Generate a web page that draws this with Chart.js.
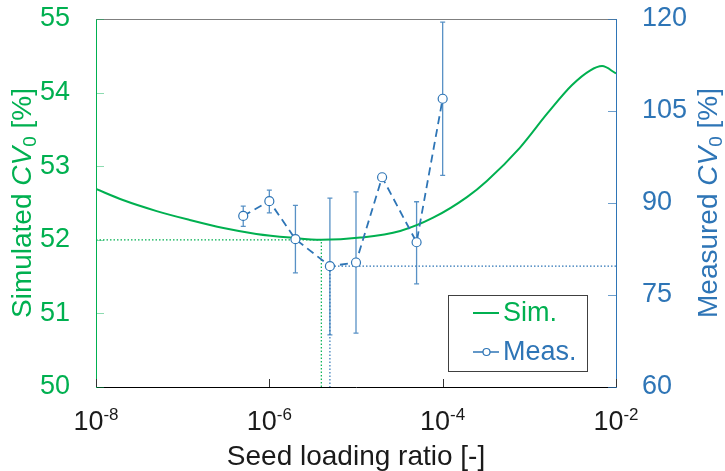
<!DOCTYPE html>
<html>
<head>
<meta charset="utf-8">
<script src="https://cdn.jsdelivr.net/npm/chart.js@4.4.1/dist/chart.umd.min.js"></script>
<style>
  html, body { margin: 0; padding: 0; background: #fff; }
  #wrap { width: 725px; height: 471px; }
</style>
</head>
<body>
<div id="wrap"><canvas id="chart" width="725" height="471"></canvas></div>
<script>
// Simulated CV0 (left axis): log10(seed loading ratio) and CV0 [%]
const simExp = [-8.00, -7.69, -7.30, -6.92, -6.53, -6.15, -5.76, -5.40, -4.95, -4.49, -4.11, -3.72, -3.49, -3.11, -2.79, -2.51, -2.30, -2.16, -2.00];
const simCv  = [52.69, 52.54, 52.39, 52.27, 52.16, 52.08, 52.03, 52.00, 52.03, 52.12, 52.30, 52.58, 52.80, 53.25, 53.72, 54.10, 54.30, 54.36, 54.26];

// Measured CV0 (right axis) with error bar limits
const measX    = [5e-7, 1e-6, 2e-6, 5e-6, 1e-5, 2e-5, 5e-5, 1e-4];
const measCv   = [87.9, 90.3, 84.1, 79.7, 80.3, 94.2, 83.6, 107.0];
const measLow  = [86.2, 88.4, 78.6, 68.5, 68.8, null, 76.8, 94.5];
const measHigh = [89.5, 92.1, 89.6, 90.8, 91.8, null, 90.2, 119.5];

// axis ranges and ticks
const xMin = 1e-8, xMax = 1e-2;
const xTickValues = [1e-8, 1e-6, 1e-4, 1e-2];
const simTicks = [50, 51, 52, 53, 54, 55];
const measTicks = [60, 75, 90, 105, 120];

const GREEN = '#00b050';
const BLUE = '#2e75b6';
const FONT = "'Liberation Sans', Arial, Helvetica, sans-serif";

// minima used for the dotted guide lines
const simMinIdx = simCv.indexOf(Math.min(...simCv));
const simMinX = Math.pow(10, simExp[simMinIdx]);
const simMinCv = simCv[simMinIdx];
const measMinIdx = measCv.indexOf(Math.min(...measCv));
const measMinX = measX[measMinIdx];
const measMinCv = measCv[measMinIdx];

function drawRich(ctx, parts, x, y, align) {
  let w = 0;
  parts.forEach(p => { ctx.font = p.font; w += ctx.measureText(p.text).width; });
  let cx = align === 'center' ? x - w / 2 : x;
  parts.forEach(p => {
    ctx.font = p.font;
    ctx.fillStyle = p.color;
    ctx.fillText(p.text, cx, y + (p.dy || 0));
    cx += ctx.measureText(p.text).width;
  });
}

const errorBars = {
  id: 'errorBars',
  beforeDatasetsDraw(chart) {
    const {ctx, scales} = chart;
    ctx.save();
    ctx.strokeStyle = 'rgba(46,117,182,0.8)';
    ctx.lineWidth = 1.3;
    measX.forEach((v, i) => {
      if (measLow[i] == null) return;
      const px = scales.x.getPixelForValue(v);
      const lo = scales.y1.getPixelForValue(measLow[i]);
      const hi = scales.y1.getPixelForValue(measHigh[i]);
      ctx.beginPath();
      ctx.moveTo(px, lo); ctx.lineTo(px, hi);
      ctx.moveTo(px - 2.5, lo); ctx.lineTo(px + 2.5, lo);
      ctx.moveTo(px - 2.5, hi); ctx.lineTo(px + 2.5, hi);
      ctx.stroke();
    });
    ctx.restore();
  }
};

const frame = {
  id: 'frame',
  afterDraw(chart) {
    const {ctx, chartArea: a, scales} = chart;
    ctx.save();

    // top border
    ctx.strokeStyle = '#7f7f7f';
    ctx.lineWidth = 1;
    ctx.beginPath();
    ctx.moveTo(a.left, a.top + 0.5); ctx.lineTo(a.right, a.top + 0.5);
    ctx.stroke();

    // inward tick marks
    ctx.strokeStyle = 'rgba(0,176,80,0.45)';
    ctx.beginPath();
    simTicks.forEach(t => {
      const py = Math.round(scales.y.getPixelForValue(t)) + 0.5;
      ctx.moveTo(a.left, py); ctx.lineTo(a.left + 8, py);
    });
    ctx.stroke();
    ctx.strokeStyle = 'rgba(46,117,182,0.7)';
    ctx.beginPath();
    measTicks.forEach(t => {
      const py = Math.round(scales.y1.getPixelForValue(t)) + 0.5;
      ctx.moveTo(a.right - 8, py); ctx.lineTo(a.right, py);
    });
    ctx.stroke();
    ctx.strokeStyle = '#333';
    ctx.beginPath();
    xTickValues.forEach(v => {
      const px = Math.round(scales.x.getPixelForValue(v)) + 0.5;
      ctx.moveTo(px, a.bottom); ctx.lineTo(px, a.bottom - 8);
    });
    ctx.stroke();

    // x tick labels as powers of ten
    ctx.textAlign = 'left';
    ctx.textBaseline = 'alphabetic';
    xTickValues.forEach(v => {
      const px = scales.x.getPixelForValue(v);
      const exp = Math.round(Math.log10(v));
      drawRich(ctx, [
        {text: '10', font: `27px ${FONT}`, color: '#1a1a1a'},
        {text: String(exp), font: `17px ${FONT}`, color: '#1a1a1a', dy: -10}
      ], px, scales.x.top + 43, 'center');
    });

    // y axis titles
    const midY = (a.top + a.bottom) / 2;
    const title = (name, color) => [
      {text: name + ' ', font: `28px ${FONT}`, color},
      {text: 'CV', font: `italic 28px ${FONT}`, color},
      {text: '0', font: `19px ${FONT}`, color, dy: 5},
      {text: ' [%]', font: `28px ${FONT}`, color}
    ];
    ctx.save();
    ctx.translate(scales.y.left + 30.5, midY);
    ctx.rotate(-Math.PI / 2);
    drawRich(ctx, title('Simulated', GREEN), 0, 0, 'center');
    ctx.restore();
    ctx.save();
    ctx.translate(scales.y1.right - 8, midY);
    ctx.rotate(-Math.PI / 2);
    drawRich(ctx, title('Measured', BLUE), 0, 0, 'center');
    ctx.restore();

    // legend box in the lower right corner of the plot
    const sim = chart.data.datasets[0], meas = chart.data.datasets[1];
    const bw = 139, bh = 76;
    const bx = a.right - 29 - bw, by = a.bottom - 16 - bh;
    ctx.fillStyle = '#fff';
    ctx.fillRect(bx, by, bw, bh);
    ctx.strokeStyle = '#404040';
    ctx.lineWidth = 1;
    ctx.strokeRect(bx + 0.5, by + 0.5, bw, bh);
    ctx.font = `27px ${FONT}`;
    ctx.textBaseline = 'middle';
    const row1 = by + 18, row2 = by + 57;
    ctx.strokeStyle = sim.borderColor;
    ctx.lineWidth = 2;
    ctx.beginPath(); ctx.moveTo(bx + 25, row1); ctx.lineTo(bx + 51, row1); ctx.stroke();
    ctx.fillStyle = sim.borderColor;
    ctx.fillText(sim.label, bx + 55, row1 + 1);
    ctx.strokeStyle = meas.borderColor;
    ctx.lineWidth = 1.5;
    ctx.beginPath(); ctx.moveTo(bx + 25, row2); ctx.lineTo(bx + 51, row2); ctx.stroke();
    ctx.fillStyle = '#fff';
    ctx.lineWidth = 1.2;
    ctx.beginPath(); ctx.arc(bx + 38.5, row2, 3.5, 0, Math.PI * 2); ctx.fill(); ctx.stroke();
    ctx.fillStyle = meas.borderColor;
    ctx.fillText(meas.label, bx + 55, row2 + 1);

    ctx.restore();
  }
};

Chart.defaults.font.family = FONT;

// vertical axes: fixed width, no extra label overhang padding
const fitY = width => s => { s.width = width; s.paddingTop = 0; s.paddingBottom = 0; };

new Chart(document.getElementById('chart'), {
  type: 'line',
  data: {
    datasets: [
      {
        label: 'Sim.',
        data: simExp.map((e, i) => ({x: Math.pow(10, e), y: simCv[i]})),
        yAxisID: 'y',
        borderColor: GREEN,
        borderWidth: 2,
        pointRadius: 0,
        cubicInterpolationMode: 'monotone',
        order: 1
      },
      {
        label: 'Meas.',
        data: measX.map((v, i) => ({x: v, y: measCv[i]})),
        yAxisID: 'y1',
        borderColor: BLUE,
        borderWidth: 1.8,
        borderDash: [8, 5],
        pointRadius: 4.5,
        pointBackgroundColor: '#fff',
        pointBorderColor: BLUE,
        pointBorderWidth: 1.2,
        order: 0
      },
      {
        label: 'sim-min',
        data: [{x: xMin, y: simMinCv}, {x: simMinX, y: simMinCv}, {x: simMinX, y: simTicks[0]}],
        yAxisID: 'y',
        borderColor: GREEN,
        borderWidth: 1.2,
        borderDash: [1.5, 2],
        pointRadius: 0,
        order: 2
      },
      {
        label: 'meas-min',
        data: [{x: xMax, y: measMinCv}, {x: measMinX, y: measMinCv}, {x: measMinX, y: measTicks[0]}],
        yAxisID: 'y1',
        borderColor: BLUE,
        borderWidth: 1.2,
        borderDash: [1.5, 2],
        pointRadius: 0,
        order: 2
      }
    ]
  },
  options: {
    responsive: false,
    animation: false,
    layout: {padding: {top: 19, left: 0, right: 0, bottom: 0}},
    plugins: {legend: {display: false}, tooltip: {enabled: false}},
    scales: {
      x: {
        type: 'logarithmic',
        position: 'bottom',
        min: xMin,
        max: xMax,
        afterBuildTicks: s => { s.ticks = xTickValues.map(v => ({value: v})); },
        afterFit: s => { s.height = 84; s.paddingLeft = 0; s.paddingRight = 0; },
        ticks: {display: false},
        grid: {display: false, drawTicks: false},
        border: {display: true, color: '#000', width: 1},
        title: {
          display: true,
          text: 'Seed loading ratio [-]',
          color: '#1a1a1a',
          font: {size: 28, lineHeight: 1},
          padding: 0
        }
      },
      y: {
        type: 'linear',
        position: 'left',
        min: simTicks[0],
        max: simTicks[simTicks.length - 1],
        afterBuildTicks: s => { s.ticks = simTicks.map(v => ({value: v})); },
        afterFit: fitY(96),
        ticks: {color: GREEN, font: {size: 27}, padding: 26},
        grid: {display: false, drawTicks: false},
        border: {display: true, color: GREEN, width: 1}
      },
      y1: {
        type: 'linear',
        position: 'right',
        min: measTicks[0],
        max: measTicks[measTicks.length - 1],
        afterBuildTicks: s => { s.ticks = measTicks.map(v => ({value: v})); },
        afterFit: fitY(109),
        ticks: {color: BLUE, font: {size: 27}, padding: 26},
        grid: {display: false, drawTicks: false},
        border: {display: true, color: BLUE, width: 1}
      }
    }
  },
  plugins: [errorBars, frame]
});
</script>
</body>
</html>
